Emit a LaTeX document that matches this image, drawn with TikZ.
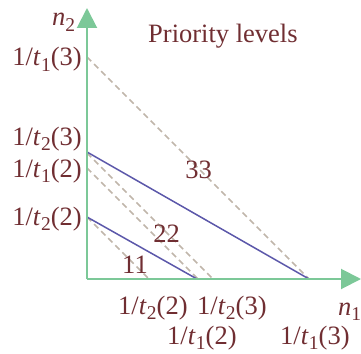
\documentclass[tikz,border=0pt]{standalone}
\usepackage{fontspec}
\setmainfont{Liberation Serif}
\usetikzlibrary{arrows.meta}
\definecolor{txt}{RGB}{112,46,50}
\definecolor{axisg}{RGB}{124,200,152}
\definecolor{blu}{RGB}{92,88,170}
\definecolor{dsh}{RGB}{192,182,170}
\newcommand\subs[1]{\raisebox{-0.2em}{\fontsize{19.5}{19.5}\selectfont #1}}
\newcommand\inv[2]{1/\textit{t}\kern0.01em\subs{#1}(#2)}
\begin{document}
\begin{tikzpicture}[x=1pt,y=-1pt,
  lbl/.style={text=txt,font=\fontsize{26.5}{30}\selectfont,inner sep=0pt},
  axisline/.style={draw=axisg,line width=2pt,-{Triangle[length=20pt,width=20pt]}},
  bline/.style={draw=blu,line width=1.5pt},
  dline/.style={draw=dsh,line width=1.6pt,dash pattern=on 6pt off 4pt}]
\useasboundingbox (0,0) rectangle (361,353);
% coordinates
\coordinate (O) at (87,279);
\coordinate (ytip) at (87,8);
\coordinate (xtip) at (361,279);
\coordinate (a1) at (87,57);   \coordinate (b1) at (309,279);
\coordinate (a2) at (87,153);  \coordinate (b2) at (213,279);
\coordinate (a3) at (87,168);  \coordinate (b3) at (198,279);
\coordinate (a4) at (87,217);  \coordinate (b4) at (149,279);
\coordinate (c1) at (87,152);  \coordinate (d1) at (309,279);
\coordinate (c2) at (87,217);  \coordinate (d2) at (197,279);
% dashed lines
\draw[dline] (a1) -- (b1);
\draw[dline] (a2) -- (b2);
\draw[dline] (a3) -- (b3);
\draw[dline] (a4) -- (b4);
% blue lines
\draw[bline] (c1) -- (d1);
\draw[bline] (c2) -- (d2);
% axes
\draw[axisline] (O) -- (ytip);
\draw[axisline] (O) -- (xtip);
% labels
\node[lbl,anchor=base west] (n2) at (52,26) {\textit{n}\subs{2}};
\node[lbl,anchor=base west] (n1) at (338,315) {\textit{n}\subs{1}};
\node[lbl,anchor=base west] (title) at (148,42) {Priority levels};
\node[lbl,anchor=base east] (y1) at (82,66) {\inv{1}{3}};
\node[lbl,anchor=base east] (y2) at (82,145) {\inv{2}{3}};
\node[lbl,anchor=base east] (y3) at (82,177) {\inv{1}{2}};
\node[lbl,anchor=base east] (y4) at (82,225) {\inv{2}{2}};
\node[lbl,anchor=base west] (x1) at (118,314) {\inv{2}{2}};
\node[lbl,anchor=base west] (x2) at (197,314) {\inv{2}{3}};
\node[lbl,anchor=base west] (x3) at (167,344) {\inv{1}{2}};
\node[lbl,anchor=base west] (x4) at (280,344) {\inv{1}{3}};
\node[lbl,anchor=base] (l11) at (135,273) {11};
\node[lbl,anchor=base] (l22) at (166.5,242) {22};
\node[lbl,anchor=base] (l33) at (198.5,178) {33};
\end{tikzpicture}
\end{document}
